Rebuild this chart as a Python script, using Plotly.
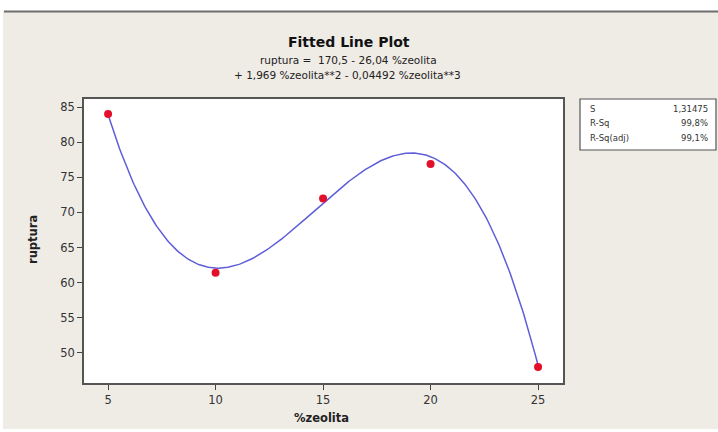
import numpy as np
import plotly.graph_objects as go

# Observed data
zeolita = [5, 10, 15, 20, 25]
ruptura = [84.0, 61.4, 72.0, 76.9, 48.0]

# Cubic regression coefficients (b0, b1, b2, b3)
coef = [170.5, -26.04, 1.969, -0.04492]

# Summary statistics
stat_labels = ["S", "R-Sq", "R-Sq(adj)"]
stat_values = ["1,31475", "99,8%", "99,1%"]

x_ticks = [5, 10, 15, 20, 25]
y_ticks = [50, 55, 60, 65, 70, 75, 80, 85]

W, H = 718, 432
L, R, T, B = 84, 563, 99, 383

def px(xp):
    return (xp - L) / (R - L)

def py(yp):
    return (B - yp) / (B - T)

xf = np.linspace(min(zeolita), max(zeolita), 300)
yf = coef[0] + coef[1] * xf + coef[2] * xf**2 + coef[3] * xf**3

fig = go.Figure()
fig.add_trace(go.Scatter(x=xf, y=yf, mode="lines",
                         line=dict(color="#5e5ed8", width=1.5),
                         hoverinfo="skip", showlegend=False))
fig.add_trace(go.Scatter(x=zeolita, y=ruptura, mode="markers",
                         marker=dict(color="#e3102b", size=8),
                         showlegend=False))

bg = "#efebe5"
font = "DejaVu Sans"

shapes = [
    # white strip along the top with separator line
    dict(type="rect", xref="paper", yref="paper", x0=px(-5), x1=px(W + 5),
         y0=py(11), y1=py(-5), fillcolor="white", line=dict(width=0), layer="below"),
    dict(type="line", xref="paper", yref="paper", x0=px(4), x1=px(W + 5),
         y0=py(11.5), y1=py(11.5), line=dict(color="#6e6e6e", width=2)),
    # white strip down the left edge
    dict(type="rect", xref="paper", yref="paper", x0=px(-5), x1=px(3),
         y0=py(H + 5), y1=py(11), fillcolor="white", line=dict(width=0), layer="below"),
    # white strip along the bottom
    dict(type="rect", xref="paper", yref="paper", x0=px(-5), x1=px(W + 5),
         y0=py(H + 5), y1=py(429), fillcolor="white", line=dict(width=0), layer="below"),
    # statistics box
    dict(type="rect", xref="paper", yref="paper", x0=px(580), x1=px(716),
         y0=py(150), y1=py(99), fillcolor="white",
         line=dict(color="#555555", width=1.2)),
]

annotations = [
    dict(text="<b>Fitted Line Plot</b>", x=px(349), y=py(42), xref="paper", yref="paper",
         showarrow=False, font=dict(family=font, size=14, color="#111111"),
         xanchor="center", yanchor="middle"),
    dict(text="ruptura =  170,5 - 26,04 %zeolita", x=px(348), y=py(60),
         xref="paper", yref="paper", showarrow=False,
         font=dict(family=font, size=10.5, color="#222222"),
         xanchor="center", yanchor="middle"),
    dict(text="+ 1,969 %zeolita**2 - 0,04492 %zeolita**3", x=px(347), y=py(75),
         xref="paper", yref="paper", showarrow=False,
         font=dict(family=font, size=10.5, color="#222222"),
         xanchor="center", yanchor="middle"),
    # axis titles
    dict(text="<b>%zeolita</b>", x=px(321), y=py(418), xref="paper", yref="paper",
         showarrow=False, xanchor="center", yanchor="middle",
         font=dict(family=font, size=11.5, color="#222222")),
    dict(text="<b>ruptura</b>", x=px(33), y=py(240), xref="paper", yref="paper",
         showarrow=False, xanchor="center", yanchor="middle", textangle=-90,
         font=dict(family=font, size=11.5, color="#222222")),
]

row_y = [109, 123, 138]
for lab, val, yy in zip(stat_labels, stat_values, row_y):
    annotations.append(dict(text=lab, x=px(588), y=py(yy), xref="paper", yref="paper",
                            showarrow=False, xanchor="left", yanchor="middle",
                            font=dict(family=font, size=8.5, color="#333333")))
    annotations.append(dict(text=val, x=px(710), y=py(yy), xref="paper", yref="paper",
                            showarrow=False, xanchor="right", yanchor="middle",
                            font=dict(family=font, size=8.5, color="#333333")))

fig.update_layout(
    width=W, height=H,
    margin=dict(l=L, r=W - R, t=T, b=H - B),
    paper_bgcolor=bg, plot_bgcolor="white",
    shapes=shapes, annotations=annotations,
    xaxis=dict(range=[3.88, 26.16], tickvals=x_ticks, ticks="outside", ticklen=5,
               tickcolor="#444444", showgrid=False, zeroline=False, automargin=False,
               showline=True, linecolor="#555555", linewidth=1.5, mirror=True,
               tickfont=dict(family=font, size=11.5, color="#333333")),
    yaxis=dict(range=[45.73, 86.14], tickvals=y_ticks, ticks="outside", ticklen=5,
               tickcolor="#444444", showgrid=False, zeroline=False, automargin=False,
               showline=True, linecolor="#555555", linewidth=1.5, mirror=True,
               tickfont=dict(family=font, size=11.5, color="#333333")),
)

fig.write_html("out.html")
